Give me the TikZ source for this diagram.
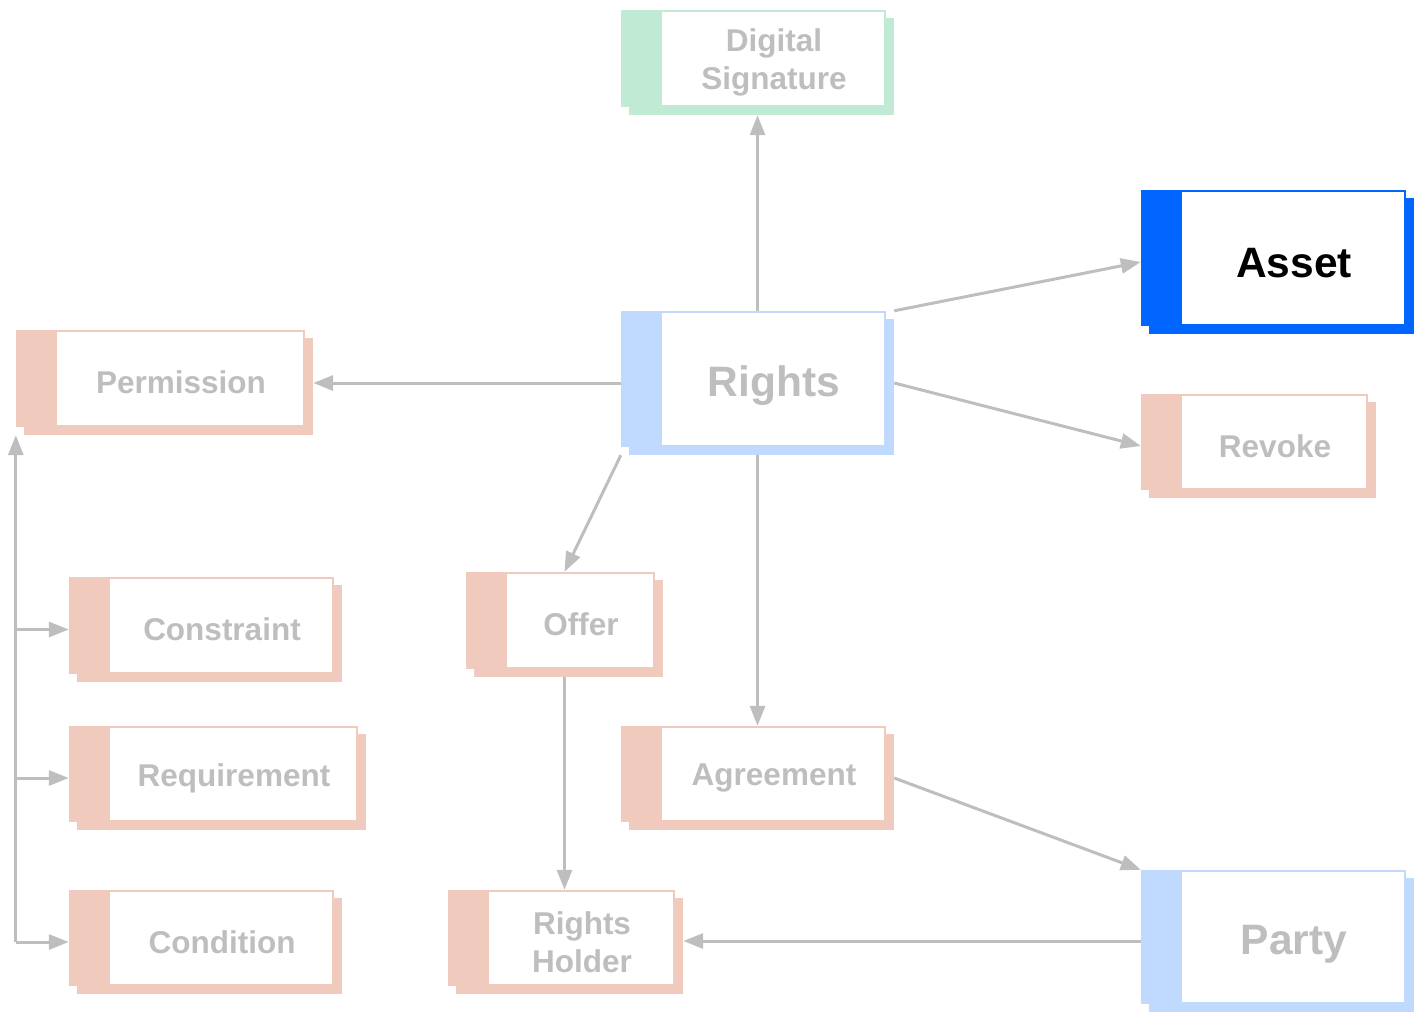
\documentclass[tikz,border=0pt]{standalone}
\usepackage{fontspec}
\setmainfont{Liberation Sans}
\usetikzlibrary{arrows.meta,fit}
\definecolor{salmon}{RGB}{240,202,189}
\definecolor{lblue}{RGB}{192,218,255}
\definecolor{lgreen}{RGB}{192,234,212}
\definecolor{assetblue}{RGB}{0,102,255}
\definecolor{txtgray}{RGB}{190,190,190}
\definecolor{arrgray}{RGB}{190,190,190}
\newcommand\mybox[8]{%
  \fill[#6] (#2+8,#3+8) rectangle (#4+8,#5+8);
  \fill[white] (#2,#3) rectangle (#4,#5);
  \draw[#6, line width=2pt] (#2+1,#3+1) rectangle (#4-1,#5-1);
  \fill[#6] (#2,#3) rectangle (#2+41,#5);
  \node[#8, align=center, inner sep=0pt] (#1-t) at ({(#2+41+#4)/2},{(#3+#5)/2+4}) {#7};
  \node[fit={(#2,#3) (#4+8,#5+8)}, inner sep=0pt, draw=none] (#1) {};
}
\tikzset{
  small/.style={text=txtgray, font=\fontsize{31.5}{38}\selectfont\bfseries},
  big/.style={text=txtgray, yshift=-3pt, font=\fontsize{42.5}{48}\selectfont\bfseries},
  bigblack/.style={text=black, yshift=-1pt, font=\fontsize{42.5}{48}\selectfont\bfseries},
  conn/.style={draw=arrgray, line width=3pt, -{Triangle[length=20pt,width=15pt]}},
}
\begin{document}
\begin{tikzpicture}[x=1pt,y=-1pt]
\useasboundingbox (0,0) rectangle (1421,1012);
\mybox{digsig}{621}{10}{886}{107}{lgreen}{Digital\\Signature}{small}
\mybox{asset}{1141}{190}{1406}{326}{assetblue}{Asset}{bigblack}
\mybox{rights}{621}{311}{886}{447}{lblue}{Rights}{big}
\mybox{permission}{16}{330}{305}{427}{salmon}{Permission}{small}
\mybox{revoke}{1141}{394}{1368}{490}{salmon}{Revoke}{small}
\mybox{constraint}{69}{577}{334}{674}{salmon}{Constraint}{small}
\mybox{offer}{466}{572}{655}{669}{salmon}{Offer}{small}
\mybox{requirement}{69}{726}{358}{822}{salmon}{Requirement}{small}
\mybox{agreement}{621}{726}{886}{822}{salmon}{Agreement}{small}
\mybox{condition}{69}{890}{334}{986}{salmon}{Condition}{small}
\mybox{holder}{448}{890}{675}{986}{salmon}{Rights\\Holder}{small}
\mybox{party}{1141}{870}{1406}{1004}{lblue}{Party}{big}

\draw[conn] (rights.north) -- (digsig.south);
\draw[conn] (rights.north east) -- (asset.west);
\draw[conn] (rights.west) -- (rights.west -| permission.east);
\draw[conn] (rights.east) -- (revoke.west);
\draw[conn] (rights.south west) -- (offer.north);
\draw[conn] (rights.south) -- (agreement.north);
\draw[conn] (offer.south) -- (offer.south |- holder.north);
\draw[conn] (agreement.east) -- (party.north west);
\draw[conn] (party.west) -- (party.west -| holder.east);
\draw[conn] (permission.south west |- condition.west) -- (permission.south west);
\draw[conn] (permission.south west |- constraint.west) -- (constraint.west);
\draw[conn] (permission.south west |- requirement.west) -- (requirement.west);
\draw[conn] (permission.south west |- condition.west) -- (condition.west);
\end{tikzpicture}
\end{document}
